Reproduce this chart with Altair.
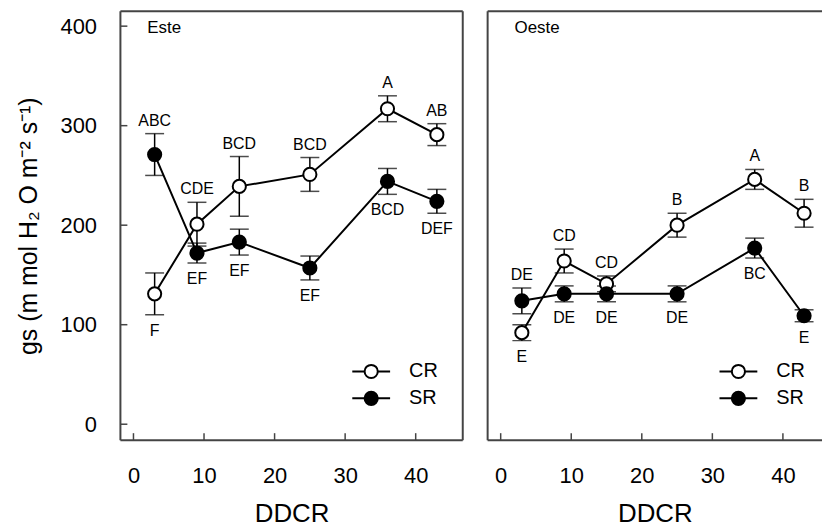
import altair as alt
import pandas as pd

# ---------------- data ----------------
days = [3, 9, 15, 25, 36, 43]
x_ticks = [0, 10, 20, 30, 40]
y_ticks = [0, 100, 200, 300, 400]
series_names = ["CR", "SR"]

este_cr = [131, 201, 239, 251, 317, 291]
este_cr_err = [21, 22, 30, 17, 13, 11]
este_cr_lab = ["F", "CDE", "BCD", "BCD", "A", "AB"]
este_sr = [271, 172, 183, 157, 244, 224]
este_sr_err = [21, 10, 13, 12, 13, 12]
este_sr_lab = ["ABC", "EF", "EF", "EF", "BCD", "DEF"]

oeste_cr = [92, 164, 141, 200, 246, 212]
oeste_cr_err = [8, 12, 8, 12, 10, 14]
oeste_cr_lab = ["E", "CD", "CD", "B", "A", "B"]
oeste_sr = [124, 131, 131, 131, 177, 109]
oeste_sr_err = [13, 8, 8, 8, 10, 6]
oeste_sr_lab = ["DE", "DE", "DE", "DE", "BC", "E"]

FONT = "Liberation Sans"
FRAME = "#444444"
PX = 7.09          # pixels per DDCR unit
XMIN = -1.85
H = 431
Y_DOM = [-16, 415]


def build_df(cr, cr_err, cr_lab, sr, sr_err, sr_lab):
    rows = []
    for i, d in enumerate(days):
        for s, v, e, l, other in (("CR", cr[i], cr_err[i], cr_lab[i], sr[i]),
                                  ("SR", sr[i], sr_err[i], sr_lab[i], cr[i])):
            above = v >= other
            rows.append(dict(day=d, value=v, series=s, lo=v - e, hi=v + e,
                             label=l, above=above,
                             ly=(v + e) if above else (v - e)))
    return pd.DataFrame(rows)


def panel(df, name, show_y, W):
    xs = alt.Scale(domain=[XMIN, XMIN + W / PX], nice=False, zero=False)
    ys = alt.Scale(domain=Y_DOM, nice=False, zero=False)
    x_axis = alt.Axis(values=x_ticks, ticks=False, tickSize=0, domain=False, grid=False,
                      labelFontSize=22, labelFont=FONT, labelColor="black",
                      labelPadding=26, title="DDCR", titleFontSize=26,
                      titleFont=FONT, titleFontWeight="normal", titleColor="black",
                      titlePadding=14, format="d")
    if show_y:
        y_axis = alt.Axis(values=y_ticks, ticks=False, tickSize=0, domain=False, grid=False,
                          labelFontSize=22, labelFont=FONT, labelColor="black",
                          labelPadding=24, title="gs (m mol H\u2082 O m\u207b\u00b2 s\u207b\u00b9)",
                          titleFontSize=25, titleFont=FONT, titleFontWeight="normal",
                          titleColor="black", titlePadding=19, format="d")
    else:
        y_axis = None

    X = alt.X("day:Q", scale=xs, axis=x_axis)
    Y = alt.Y("value:Q", scale=ys, axis=y_axis)

    base = alt.Chart(df)
    lines = base.mark_line(color="black", strokeWidth=2).encode(
        x=X, y=Y, detail="series:N")
    bars = base.mark_rule(color="black", strokeWidth=1.5).encode(
        x=alt.X("day:Q", scale=xs), y=alt.Y("lo:Q", scale=ys), y2="hi:Q")
    cap_hi = base.mark_tick(orient="horizontal", size=19, thickness=1.5, color="black").encode(
        x=alt.X("day:Q", scale=xs), y=alt.Y("hi:Q", scale=ys))
    cap_lo = base.mark_tick(orient="horizontal", size=19, thickness=1.5, color="black").encode(
        x=alt.X("day:Q", scale=xs), y=alt.Y("lo:Q", scale=ys))
    pts = base.mark_point(shape="circle", filled=True, size=175, opacity=1,
                          stroke="black", strokeWidth=2).encode(
        x=alt.X("day:Q", scale=xs), y=alt.Y("value:Q", scale=ys),
        fill=alt.Fill("series:N", scale=alt.Scale(domain=series_names,
                                                  range=["white", "black"]), legend=None))
    lab_up = alt.Chart(df[df["above"]]).mark_text(
        font=FONT, fontSize=16, color="black", baseline="middle", align="center", dy=-13).encode(
        x=alt.X("day:Q", scale=xs), y=alt.Y("ly:Q", scale=ys), text="label:N")
    lab_dn = alt.Chart(df[~df["above"]]).mark_text(
        font=FONT, fontSize=16, color="black", baseline="middle", align="center", dy=16).encode(
        x=alt.X("day:Q", scale=xs), y=alt.Y("ly:Q", scale=ys), text="label:N")

    # inward ticks
    xt = alt.Chart(pd.DataFrame({"day": x_ticks})).mark_rule(color=FRAME, strokeWidth=1.5).encode(
        x=alt.X("day:Q", scale=xs), y=alt.value(H), y2=alt.value(H - 7))
    layers = [lines, bars, cap_hi, cap_lo, pts, lab_up, lab_dn, xt]
    if show_y:
        yt = alt.Chart(pd.DataFrame({"value": y_ticks})).mark_rule(color=FRAME, strokeWidth=1.5).encode(
            y=alt.Y("value:Q", scale=ys), x=alt.value(0), x2=alt.value(7))
        layers.append(yt)

    one = alt.Chart(pd.DataFrame({"t": [name]}))
    # frame
    layers.append(one.mark_rule(color=FRAME, strokeWidth=2).encode(
        x=alt.value(0), x2=alt.value(W), y=alt.value(0)))
    layers.append(one.mark_rule(color=FRAME, strokeWidth=2).encode(
        x=alt.value(0), x2=alt.value(W), y=alt.value(H)))
    layers.append(one.mark_rule(color=FRAME, strokeWidth=2).encode(
        x=alt.value(0), y=alt.value(0), y2=alt.value(H)))
    if show_y:
        layers.append(one.mark_rule(color=FRAME, strokeWidth=2).encode(
            x=alt.value(W), y=alt.value(0), y2=alt.value(H)))

    # panel label
    layers.append(one.mark_text(font=FONT, fontSize=17, color="black", align="left",
                                baseline="middle").encode(
        text="t:N", x=alt.value(27), y=alt.value(17)))

    # legend
    for s, yy, fill in (("CR", 362, "white"), ("SR", 389, "black")):
        leg = alt.Chart(pd.DataFrame({"s": [s]}))
        layers.append(leg.mark_rule(color="black", strokeWidth=2).encode(
            x=alt.value(233), x2=alt.value(271), y=alt.value(yy)))
        layers.append(leg.mark_point(shape="circle", filled=True, size=175, opacity=1,
                                     fill=fill, stroke="black", strokeWidth=2).encode(
            x=alt.value(252), y=alt.value(yy)))
        layers.append(leg.mark_text(font=FONT, fontSize=20, color="black", align="left",
                                    baseline="middle").encode(
            text="s:N", x=alt.value(290), y=alt.value(yy)))

    return alt.layer(*layers).properties(width=W, height=H)


df_e = build_df(este_cr, este_cr_err, este_cr_lab, este_sr, este_sr_err, este_sr_lab)
df_o = build_df(oeste_cr, oeste_cr_err, oeste_cr_lab, oeste_sr, oeste_sr_err, oeste_sr_lab)

left = panel(df_e, "Este", True, 344)
right = panel(df_o, "Oeste", False, 336)

chart = alt.hconcat(left, right, spacing=23).properties(
    padding={"left": 16, "top": 9, "right": 0, "bottom": 0},
    background="white",
).configure_view(stroke=None).resolve_scale(x="independent", y="independent", fill="shared")

chart.save("out.html", embed_options={"renderer": "svg", "actions": False})
